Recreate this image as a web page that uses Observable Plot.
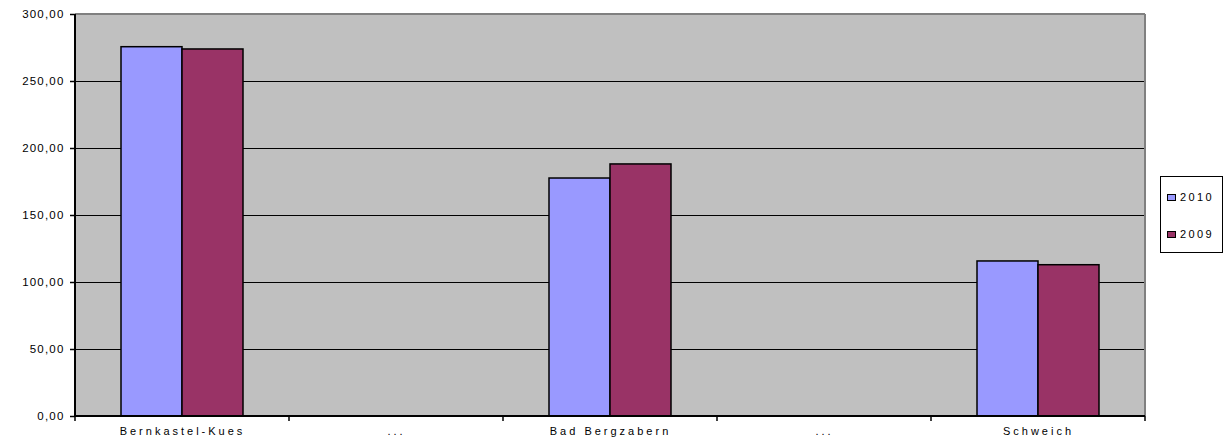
<!DOCTYPE html>
<html>
<head>
<meta charset="utf-8">
<script src="https://cdn.jsdelivr.net/npm/d3@7"></script>
<script src="https://cdn.jsdelivr.net/npm/@observablehq/plot@0.6"></script>
<style>
  body { margin: 0; background: #fff; font-family: "Liberation Sans", Arial, sans-serif; }
  #wrap { position: relative; width: 1227px; height: 441px; }
  .legend { position: absolute; left: 1160px; top: 176px; width: 63px; height: 77px; border: 1.5px solid #000; box-sizing: border-box; background: #fff; }
  .item { position: absolute; left: 6px; font-size: 11px; letter-spacing: 2.4px; line-height: 12px; color: #000; }
  .sw { display: inline-block; width: 7px; height: 5px; border: 1.5px solid #000; margin-right: 4px; vertical-align: 0px; }
  g[aria-label="y-axis tick label"] text { letter-spacing: 1.2px; font-size: 11.5px; }
</style>
</head>
<body>
<div id="wrap"></div>
<script>
const categoryKeys = ["Bernkastel-Kues", "…a", "Bad Bergzabern", "…b", "Schweich"];
const categoryLabels = ["Bernkastel-Kues", "...", "Bad Bergzabern", "...", "Schweich"];
const seriesNames = ["2010", "2009"];
const seriesColors = ["#9999ff", "#993366"];
const values2010 = [275.6, null, 177.6, null, 115.7];
const values2009 = [273.9, null, 188.1, null, 112.9];
const yTicks = [0, 50, 100, 150, 200, 250, 300];

const data = [];
categoryKeys.forEach((c, i) => {
  data.push({category: c, series: "2010", value: values2010[i]});
  data.push({category: c, series: "2009", value: values2009[i]});
});
const fmt = v => v.toFixed(2).replace(".", ",");

const plot = Plot.plot({
  width: 1227,
  height: 441,
  marginLeft: 74,
  marginRight: 81,
  marginTop: 14,
  marginBottom: 25,
  style: {fontFamily: '"Liberation Sans", Arial, sans-serif', fontSize: "11px", letterSpacing: "3px", color: "#000", background: "transparent"},
  fx: {domain: categoryKeys, padding: 0},
  x: {domain: seriesNames, paddingInner: 0, paddingOuter: 0.75, axis: null},
  y: {domain: [0, 300]},
  color: {domain: seriesNames, range: seriesColors},
  marks: [
    Plot.gridY(yTicks.filter(v => v > 0 && v < 300), {stroke: "#000", strokeOpacity: 1, strokeWidth: 1}),
    Plot.barY(data, {fx: "category", x: "series", y: "value", fill: "series", stroke: "#000", strokeWidth: 1.5}),
    Plot.axisY({facetAnchor: "left", ticks: yTicks, tickFormat: fmt, tickSize: 5, tickPadding: 6, label: null, stroke: "#000", strokeWidth: 1.5}),
    Plot.axisFx({anchor: "bottom", tickSize: 0, tickPadding: 11, label: null, tickFormat: k => categoryLabels[categoryKeys.indexOf(k)]})
  ]
});

const svg = d3.select(plot);
const y = plot.scale("y");
const fx = plot.scale("fx");
const bw = fx.bandwidth;
const xL = fx.apply(categoryKeys[0]);
const xR = fx.apply(categoryKeys[categoryKeys.length - 1]) + bw;
const yTop = y.apply(yTicks[yTicks.length - 1]);
const yBot = y.apply(0);

svg.insert("rect", ":first-child")
  .attr("x", xL).attr("y", yTop).attr("width", xR - xL).attr("height", yBot - yTop)
  .attr("fill", "#c0c0c0");

const g = svg.append("g");
g.append("line").attr("x1", xL).attr("x2", xR).attr("y1", yTop).attr("y2", yTop).attr("stroke", "#808080").attr("stroke-width", 2);
g.append("line").attr("x1", xR).attr("x2", xR).attr("y1", yTop).attr("y2", yBot).attr("stroke", "#808080").attr("stroke-width", 2);
g.append("line").attr("x1", xL).attr("x2", xL).attr("y1", yTop).attr("y2", yBot + 1).attr("stroke", "#000").attr("stroke-width", 2);
g.append("line").attr("x1", xL).attr("x2", xR).attr("y1", yBot).attr("y2", yBot).attr("stroke", "#000").attr("stroke-width", 2);
const bounds = categoryKeys.map(k => fx.apply(k)).concat([xR]);
bounds.forEach(bx => {
  g.append("line").attr("x1", bx).attr("x2", bx).attr("y1", yBot).attr("y2", yBot + 5).attr("stroke", "#000").attr("stroke-width", 1.5);
});

const wrap = document.getElementById("wrap");
wrap.appendChild(plot);

const legend = document.createElement("div");
legend.className = "legend";
seriesNames.forEach((s, i) => {
  const it = document.createElement("div");
  it.className = "item";
  it.style.top = (i === 0 ? 14 : 51) + "px";
  it.innerHTML = `<span class="sw" style="background:${seriesColors[i]}"></span>${s}`;
  legend.appendChild(it);
});
wrap.appendChild(legend);
</script>
</body>
</html>
